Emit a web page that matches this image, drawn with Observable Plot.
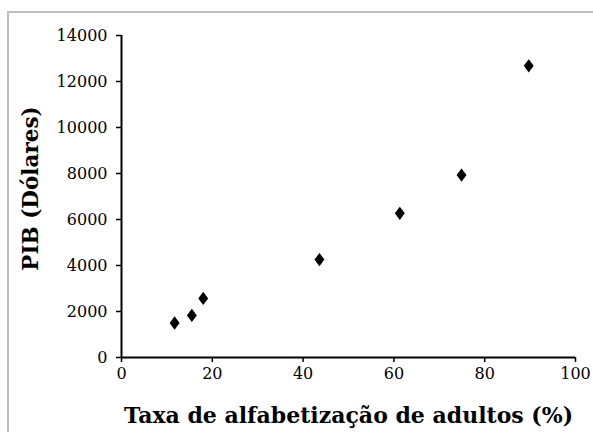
<!DOCTYPE html>
<html>
<head>
<meta charset="utf-8">
<script src="https://cdn.jsdelivr.net/npm/d3@7"></script>
<script src="https://cdn.jsdelivr.net/npm/@observablehq/plot@0.6"></script>
<style>
  body { margin: 0; background: #fff; }
  #wrap { position: relative; width: 593px; height: 432px; overflow: hidden; background: #fff; }
  #border { position: absolute; left: 7px; top: 11px; width: 700px; height: 600px;
            border-left: 2px solid #bdbdbd; border-top: 2px solid #bdbdbd; }
  #chart { position: absolute; left: 0; top: 0; }
</style>
</head>
<body>
<div id="wrap"><div id="border"></div><div id="chart"></div></div>
<script>
const literacy = [11.7, 15.5, 18.0, 43.6, 61.3, 74.9, 89.7];
const gdp = [1500, 1830, 2570, 4260, 6270, 7930, 12680];
const xTicks = [0, 20, 40, 60, 80, 100];
const yTicks = [0, 2000, 4000, 6000, 8000, 10000, 12000, 14000];
const xLabel = "Taxa de alfabetização de adultos (%)";
const yLabel = "PIB (Dólares)";

const data = literacy.map((x, i) => ({x, y: gdp[i]}));

// diamond shape slightly wider than d3's default
const diamond = {
  draw(ctx, size) {
    const h = Math.sqrt(size) * 0.72, w = h * 0.75;
    ctx.moveTo(0, -h); ctx.lineTo(w, 0); ctx.lineTo(0, h); ctx.lineTo(-w, 0); ctx.closePath();
  }
};

const fmt = d => String(d);
const serif = "'DejaVu Serif', serif";
const chart = Plot.plot({
  width: 593,
  height: 432,
  marginLeft: 121,
  marginRight: 18,
  marginTop: 35,
  marginBottom: 75,
  style: { fontFamily: serif, fontSize: "16px", color: "#000", background: "transparent" },
  x: { domain: [0, 100], label: null },
  y: { domain: [0, 14000], label: null },
  marks: [
    Plot.axisX({ ticks: xTicks, tickFormat: fmt, tickSize: 5, tickPadding: 5, strokeWidth: 1.5, fontSize: 16, label: null }),
    Plot.axisY({ ticks: yTicks, tickFormat: fmt, tickSize: 5, tickPadding: 9, strokeWidth: 1.5, fontSize: 16, label: null }),
    Plot.ruleY([0], { strokeWidth: 2 }),
    Plot.ruleX([0], { strokeWidth: 2 }),
    Plot.dot(data, { x: "x", y: "y", symbol: diamond, r: 5.2, fill: "#000", stroke: "none" }),
    Plot.text([xLabel], { frameAnchor: "bottom", dy: 58, fontSize: 22, fontWeight: "bold", lineAnchor: "middle", textAnchor: "middle" }),
    Plot.text([yLabel], { frameAnchor: "left", rotate: -90, dx: -90, dy: -8, fontSize: 21.5, fontWeight: "bold", lineAnchor: "middle", textAnchor: "middle" })
  ]
});
document.getElementById("chart").appendChild(chart);
</script>
</body>
</html>
